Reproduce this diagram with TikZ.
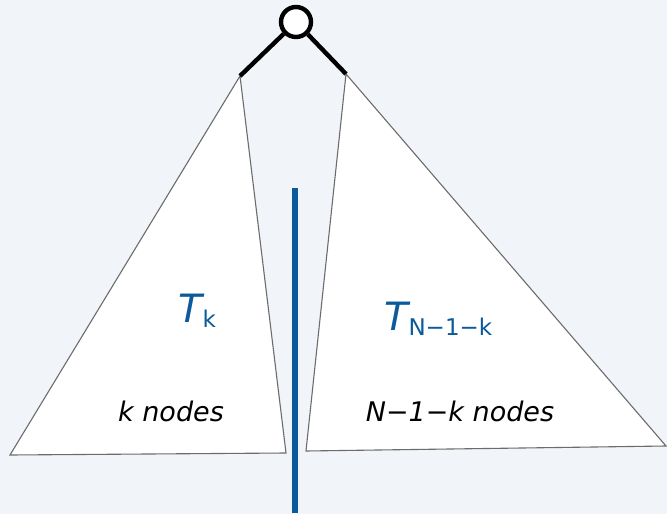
\documentclass[tikz,border=0pt]{standalone}
\usepackage{fontspec}
\setmainfont{DejaVu Sans}
\definecolor{bg}{HTML}{F1F4F8}
\definecolor{myblue}{HTML}{0B5A9C}
\begin{document}
\begin{tikzpicture}[x=1pt,y=-1pt,
  tri/.style={draw=gray!85!black, fill=white, line width=1.1pt, line join=miter},
  edge/.style={line width=4.4pt, black},
  lbl/.style={inner sep=0pt, font=\fontsize{27}{30}\selectfont\itshape},
  tlbl/.style={inner sep=0pt, text=myblue}]
\fill[bg] (0,0) rectangle (667,514);
\useasboundingbox (0,0) rectangle (667,514);
% triangles
\coordinate (la) at (240,76);
\coordinate (ra) at (346,74);
\draw[tri] (la) -- (10,455) -- (286,453) -- cycle;
\draw[tri] (ra) -- (306,451) -- (666,446) -- cycle;
% root
\node[circle, draw, line width=4.4pt, fill=white, minimum size=30pt, inner sep=0pt] (root) at (296,22) {};
\draw[edge] (root) -- (la);
\draw[edge] (root) -- (ra);
% divider
\coordinate (dtop) at (295,188);
\coordinate (dbot) at (295,513);
\draw[myblue, line width=5.5pt] (dtop) -- (dbot);
% labels
\node[tlbl, anchor=base west] (tk) at (178,322) {\fontsize{39}{42}\selectfont\itshape T\kern0.5pt\raisebox{-5pt}{\fontsize{23}{26}\selectfont\upshape k}};
\node[tlbl, anchor=base west] (tn) at (384,330) {\fontsize{39}{42}\selectfont\itshape T\kern0.5pt\raisebox{-5pt}{\fontsize{23}{26}\selectfont\upshape N−1−k}};
\node[lbl, anchor=base] (kn) at (171,421) {k nodes};
\node[lbl, anchor=base] (nn) at (460,421) {N−1−k nodes};
\end{tikzpicture}
\end{document}
